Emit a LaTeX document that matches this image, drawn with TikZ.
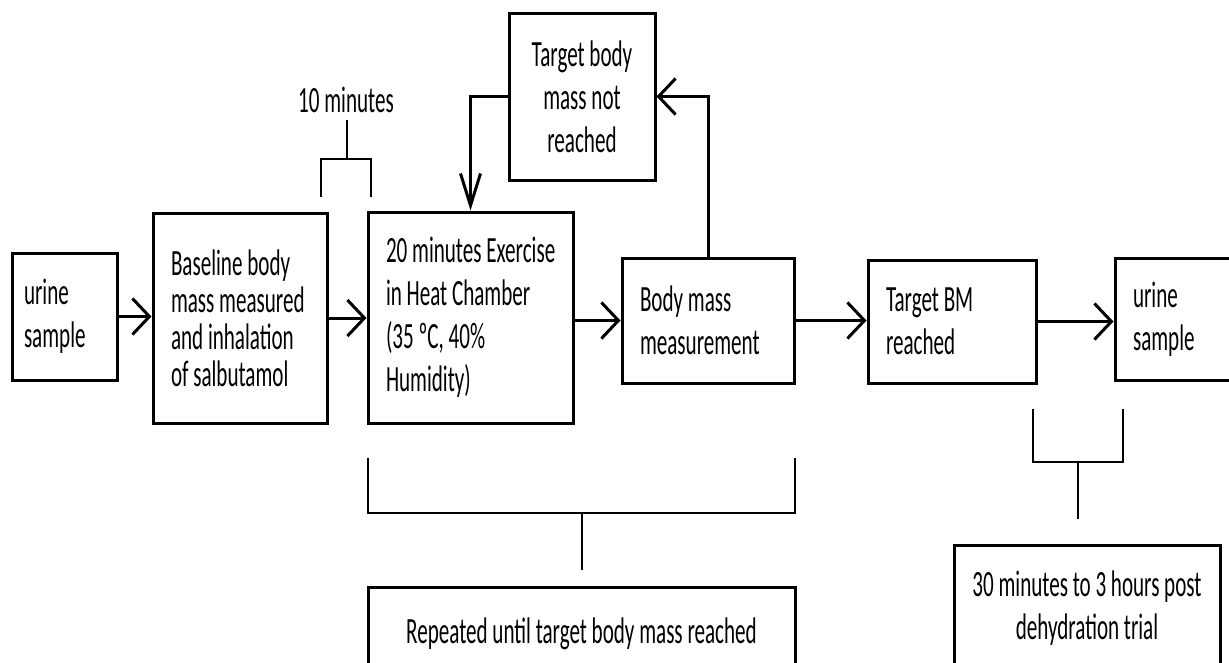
\documentclass[tikz,border=0pt]{standalone}
\usepackage{fontspec}
\setmainfont{Carlito}[FakeStretch=0.57]
\usetikzlibrary{arrows.meta}
\hyphenpenalty=10000
\exhyphenpenalty=10000
\newcommand\fixsp{\spaceskip=\fontdimen2\font\relax\xspaceskip=\fontdimen2\font\relax}
\begin{document}
\begin{tikzpicture}[x=1pt,y=-1pt,
  box/.style={draw, line width=3pt, inner ysep=0pt, inner xsep=18pt,
    align=left, font=\fontsize{37}{43}\selectfont},
  cbox/.style={box, inner xsep=8pt, align=center},
  conn/.style={line width=3pt},
  harrow/.style={conn, -{Straight Barb[length=17pt,width=36pt]}},
  varrow/.style={conn, -{Straight Barb[length=32pt,width=20pt]}},
  brace/.style={line width=2.5pt},
  lbl/.style={inner sep=0pt, font=\fontsize{37}{43}\selectfont}]
\useasboundingbox (0,0) rectangle (1229,662);

% main row
\node[box, inner xsep=12pt, minimum width=105pt, minimum height=127pt, text width=81pt] (u1) at (64.5,316.5) {\fixsp urine\\sample};
\node[box, minimum width=174pt, minimum height=210pt, text width=138pt, font=\fontsize{37}{37}\selectfont] (base) at (240,318)
  {\fixsp Baseline~body\\mass~measured\\and~inhalation\\of~salbutamol};
\node[box, minimum width=205pt, minimum height=211pt, text width=169pt] (ex) at (470.5,317.5)
  {\fixsp 20~minutes~Exercise\\in~Heat~Chamber\\(35~ºC,~40\%\\Humidity)};
\node[cbox, minimum width=146pt, minimum height=167pt, text width=130pt] (notr) at (582,96.5)
  {\fixsp Target~body\\mass~not\\reached};
\node[box, minimum width=172pt, minimum height=125pt, text width=136pt] (bm) at (708,320.5)
  {\fixsp Body~mass\\measurement};
\node[box, minimum width=168pt, minimum height=123pt, text width=132pt] (tbm) at (952,321.5)
  {\fixsp Target~BM\\reached};
\node[box, minimum width=145pt, minimum height=122pt, text width=109pt] (u2) at (1187.5,319)
  {\fixsp urine\\sample};
\node[cbox, minimum width=427pt, minimum height=93pt, text width=411pt] (rep) at (581.5,633.5)
  {\fixsp Repeated~until~target~body~mass~reached};
\node[cbox, minimum width=266pt, minimum height=126pt, text width=250pt] (thirty) at (1087,608)
  {\fixsp 30~minutes~to~3~hours~post\\dehydration~trial};

% arrows
\draw[harrow] (u1.east) -- (u1.east -| base.west);
\draw[harrow] (base.east) -- (base.east -| ex.west);
\draw[harrow] (ex.east |- bm.west) -- (bm.west);
\draw[harrow] (bm.east) -- (bm.east -| tbm.west);
\draw[harrow] (tbm.east) -- (tbm.east -| u2.west);
\draw[harrow] (bm.north) |- (notr.east);
\draw[varrow] (notr.west) -| (ex.north);

% 10 minutes bracket
\node[lbl] (ten) at (346,100) {10 minutes};
\coordinate (tA) at (321,197);
\coordinate (tB) at (321,159);
\coordinate (tC) at (371,159);
\coordinate (tD) at (371,197);
\coordinate (tM) at (347,159);
\coordinate (tS) at (347,120);
\draw[brace] (tA) -- (tB) -- (tC) -- (tD);
\draw[brace] (tM) -- (tS);

% repeated bracket
\coordinate (rA) at (368,458);
\coordinate (rB) at (368,513);
\coordinate (rC) at (795,513);
\coordinate (rD) at (795,458);
\coordinate (rM) at (582,513);
\coordinate (rS) at (582,570);
\draw[brace] (rA) -- (rB) -- (rC) -- (rD);
\draw[brace] (rM) -- (rS);

% post bracket
\coordinate (pA) at (1033,409);
\coordinate (pB) at (1033,462);
\coordinate (pC) at (1123,462);
\coordinate (pD) at (1123,409);
\coordinate (pM) at (1078,462);
\coordinate (pS) at (1078,519);
\draw[brace] (pA) -- (pB) -- (pC) -- (pD);
\draw[brace] (pM) -- (pS);
\end{tikzpicture}
\end{document}
